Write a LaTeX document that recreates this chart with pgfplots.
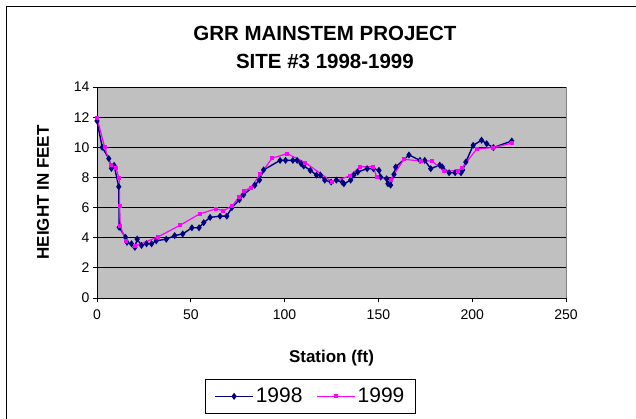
\documentclass[border=0pt]{standalone}
\usepackage{fontspec}
\setmainfont{Liberation Sans}
\usepackage{pgfplots}
\pgfplotsset{compat=1.18}

\definecolor{plotgrey}{RGB}{192,192,192}
\definecolor{edgegrey}{RGB}{128,128,128}
\definecolor{navy98}{RGB}{0,0,128}
\definecolor{pink99}{RGB}{255,0,255}

\begin{document}
\begin{tikzpicture}
\begin{axis}[
    scale only axis,
    width=469bp, height=211bp,
    xmin=0, xmax=250, ymin=0, ymax=14,
    xtick={0,50,100,150,200,250},
    ytick={0,2,4,6,8,10,12,14},
    axis x line*=bottom, axis y line*=left,
    axis line style={black, line width=0.8bp, -},
    axis background/.style={fill=plotgrey, draw=edgegrey, line width=0.8bp},
    tick align=outside, major tick length=4bp,
    tick style={black, line width=0.8bp},
    ymajorgrids, grid style={black, line width=0.8bp},
    /pgf/number format/assume math mode=true,
    tick label style={font=\fontsize{14bp}{16bp}\selectfont},
    xticklabel style={yshift=-4bp},
    title={GRR MAINSTEM PROJECT\\SITE \#3 1998-1999},
    title style={at={(rel axis cs:0.486,1)}, yshift=34bp, anchor=center,
                 align=center, font=\fontsize{20.5bp}{28bp}\selectfont\bfseries},
    xlabel={Station (ft)},
    xlabel style={at={(rel axis cs:0.5,0)}, yshift=-60bp, anchor=center,
                  font=\fontsize{17bp}{20bp}\selectfont\bfseries},
    ylabel={HEIGHT IN FEET},
    ylabel style={at={(rel axis cs:0,0.5)}, yshift=54bp, anchor=center,
                  font=\fontsize{17bp}{20bp}\selectfont\bfseries},
    legend columns=2,
    legend style={at={(rel axis cs:0.455,-0.466)}, anchor=center,
                  draw=black, line width=0.8bp,
                  font=\fontsize{21bp}{24bp}\selectfont,
                  /tikz/every even column/.append style={column sep=12bp},
                  inner xsep=9bp, inner ysep=7bp},
    legend image code/.code={
        \draw[mark repeat=2, mark phase=2] plot coordinates {(0bp,0bp)(19bp,0bp)(38bp,0bp)};},
]
\addplot[navy98, line width=1.4bp, mark=diamond*, mark size=2.4bp,
         mark options={solid, fill=navy98}] coordinates {
(0,11.75)(2.8,10.0)(6.3,9.25)(7.7,8.6)(9.1,8.8)(11.6,7.38)(11.8,4.69)
(15.2,4.02)(16,3.69)(18.4,3.6)(20.2,3.36)(21.4,3.91)(23.7,3.49)(26.4,3.6)
(29.1,3.6)(31.6,3.8)(36.9,3.9)(41.4,4.14)(45.7,4.25)(50.6,4.66)(54.4,4.66)
(56.9,5.0)(60.3,5.35)(65.6,5.43)(69.2,5.43)(71.9,6.0)(75.9,6.52)(78.1,6.85)
(84.1,7.48)(86.6,7.83)(88.8,8.5)(97.6,9.13)(100.5,9.13)(104.4,9.13)(106.7,9.13)
(108.8,8.91)(110.2,8.76)(113.7,8.47)(117,8.16)(119.1,8.16)(121.4,7.82)
(124.8,7.69)(127.6,7.82)(130.7,7.69)(131.6,7.58)(135.2,7.82)(136.9,8.16)
(139,8.36)(144,8.58)(147.3,8.58)(150.3,8.47)(151.2,8.02)(154.4,7.91)
(155.1,7.58)(156.5,7.49)(158.3,8.2)(159.2,8.69)(166.3,9.49)(172.2,9.13)
(174.7,9.13)(177.9,8.58)(182.7,8.82)(184.1,8.69)(187.7,8.31)(190.9,8.31)
(194,8.31)(194.9,8.49)(196.6,9.02)(200.5,10.13)(205,10.47)(207.7,10.24)
(211.3,9.98)(221.1,10.42)};
\addlegendentry{1998}
\addplot[pink99, line width=1.2bp, mark=square*, mark size=1.4bp,
         mark options={solid, fill=pink99}] coordinates {
(0,11.95)(4.1,10.0)(7.2,8.85)(10,8.64)(11.8,7.95)(12.1,6.09)(12.4,4.78)
(15.3,3.79)(20.5,3.45)(32.6,4.06)(44.2,4.82)(54.7,5.58)(63.5,5.92)(67.4,5.78)
(72.1,6.12)(75.9,6.72)(78.4,7.11)(81.9,7.31)(87,8.2)(93.3,9.27)(101.3,9.58)
(111.1,8.98)(125.3,7.71)(134.6,8.09)(140.1,8.71)(147.3,8.71)(149,8.05)
(156.5,7.85)(163.6,9.2)(172.6,9.09)(178.5,9.09)(185,8.42)(192.3,8.45)
(194.7,8.65)(202.5,9.9)(211.3,9.98)(221.1,10.27)};
\addlegendentry{1999}
\end{axis}
\draw[black, line width=1bp] (-90bp,-121bp) -- (-90bp,291bp) -- (539bp,291bp);
\pgfresetboundingbox
\useasboundingbox (-97bp,-121bp) rectangle (539bp,298bp);
\end{tikzpicture}
\end{document}
